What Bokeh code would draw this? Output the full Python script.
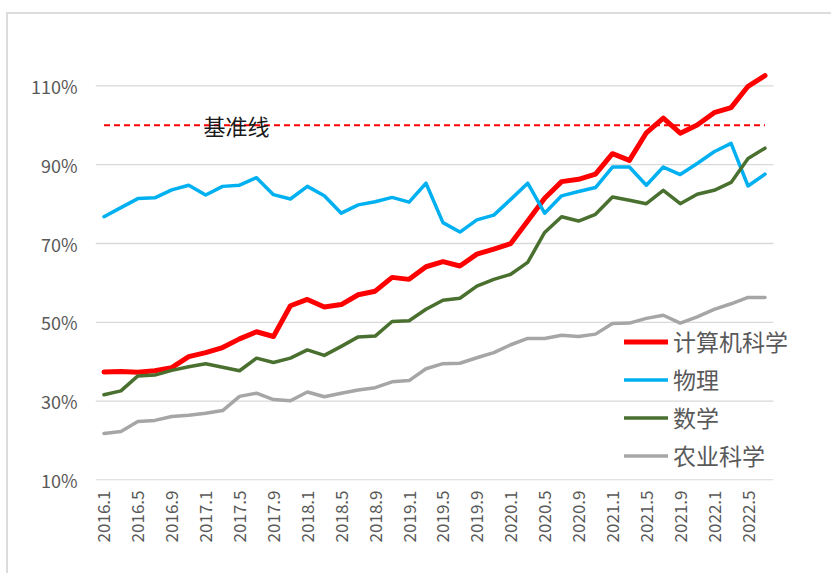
import math
from bokeh.plotting import figure
from bokeh.models import FixedTicker, Legend, LegendItem, Range1d
from bokeh.core.properties import value
from bokeh.embed import file_html
from bokeh.resources import INLINE

# ---------------- data ----------------
categories = [
    "2016.1", "2016.3", "2016.5", "2016.7", "2016.9", "2016.11",
    "2017.1", "2017.3", "2017.5", "2017.7", "2017.9", "2017.11",
    "2018.1", "2018.3", "2018.5", "2018.7", "2018.9", "2018.11",
    "2019.1", "2019.3", "2019.5", "2019.7", "2019.9", "2019.11",
    "2020.1", "2020.3", "2020.5", "2020.7", "2020.9", "2020.11",
    "2021.1", "2021.3", "2021.5", "2021.7", "2021.9", "2021.11",
    "2022.1", "2022.3", "2022.5", "2022.7",
]
x_tick_labels = [
    "2016.1", "2016.5", "2016.9", "2017.1", "2017.5", "2017.9", "2018.1",
    "2018.5", "2018.9", "2019.1", "2019.5", "2019.9", "2020.1", "2020.5",
    "2020.9", "2021.1", "2021.5", "2021.9", "2022.1", "2022.5",
]
computer_science = [
    37.4, 37.5, 37.3, 37.7, 38.5, 41.3, 42.3, 43.6, 45.8, 47.6,
    46.4, 54.2, 55.8, 53.9, 54.5, 57.0, 57.9, 61.4, 60.9, 64.1,
    65.4, 64.3, 67.3, 68.6, 70.0, 75.7, 81.5, 85.7, 86.3, 87.6,
    92.8, 91.1, 98.1, 101.8, 98.0, 100.1, 103.2, 104.5, 109.9, 112.6,
]
physics = [
    76.8, 79.1, 81.4, 81.6, 83.6, 84.8, 82.3, 84.5, 84.8, 86.7,
    82.4, 81.3, 84.5, 82.1, 77.7, 79.8, 80.6, 81.7, 80.5, 85.3,
    75.3, 72.9, 76.0, 77.2, 81.2, 85.3, 77.7, 82.1, 83.2, 84.2,
    89.4, 89.4, 84.8, 89.4, 87.5, 90.3, 93.3, 95.4, 84.6, 87.6,
]
mathematics = [
    31.6, 32.6, 36.4, 36.6, 37.8, 38.7, 39.5, 38.6, 37.7, 40.9,
    39.8, 40.9, 43.0, 41.6, 43.9, 46.3, 46.5, 50.2, 50.4, 53.3,
    55.6, 56.1, 59.2, 60.9, 62.2, 65.2, 72.8, 76.8, 75.7, 77.4,
    81.8, 81.0, 80.1, 83.5, 80.1, 82.5, 83.5, 85.5, 91.6, 94.2,
]
agriculture = [
    21.8, 22.3, 24.8, 25.1, 26.1, 26.4, 26.9, 27.6, 31.2, 32.0,
    30.4, 30.1, 32.3, 31.1, 32.0, 32.8, 33.4, 34.9, 35.2, 38.2,
    39.5, 39.6, 41.0, 42.3, 44.3, 45.9, 45.9, 46.7, 46.4, 47.0,
    49.7, 49.8, 51.0, 51.8, 49.8, 51.4, 53.3, 54.7, 56.3, 56.3,
]
series_names = ["计算机科学", "物理", "数学", "农业科学"]
series_colors = ["#FF0000", "#00B0F0", "#4A7030", "#A6A6A6"]
series_widths = [5, 3.5, 3.5, 3.5]

baseline_value = 100
baseline_label = "基准线"
baseline_label_category = "2017.5"

y_ticks = [10, 30, 50, 70, 90, 110]
y_tick_labels = ["10%", "30%", "50%", "70%", "90%", "110%"]

FONT = "Noto Sans CJK SC"
LABEL_COLOR = "#595959"

# category positions on a numeric axis (one unit per category)
xpos = list(range(len(categories)))
cat_index = {c: i for i, c in enumerate(categories)}

# ---------------- figure ----------------
p = figure(
    x_range=Range1d(-0.5, 41.39),
    y_range=Range1d(9.85, 120),
    width=825, height=561,
    output_backend="svg", toolbar_location=None,
    min_border_left=87, min_border_right=28,
    min_border_top=32, min_border_bottom=95,
)
p.styles = {"position": "relative", "left": "8px", "top": "14px",
            "box-shadow": "-2px -2px 0 0 #DCDCDC"}
p.outline_line_color = None
p.background_fill_color = "white"
p.border_fill_color = "white"

p.xgrid.grid_line_color = None
p.ygrid.grid_line_color = None

# horizontal gridlines spanning only the category area
p.segment(x0=[xpos[0] - 0.5] * len(y_ticks), x1=[xpos[-1] + 0.5] * len(y_ticks),
          y0=y_ticks, y1=y_ticks, line_color="#D9D9D9", line_width=1.3)

p.yaxis.ticker = FixedTicker(ticks=y_ticks)
p.yaxis.major_label_overrides = {t: l for t, l in zip(y_ticks, y_tick_labels)}
x_ticks = [cat_index[c] for c in x_tick_labels]
p.xaxis.ticker = FixedTicker(ticks=x_ticks)
p.xaxis.major_label_overrides = {cat_index[c]: c for c in x_tick_labels}
for ax in (p.xaxis, p.yaxis):
    ax.axis_line_color = None
    ax.major_tick_line_color = None
    ax.minor_tick_line_color = None
    ax.major_tick_out = 0
    ax.major_tick_in = 0
    ax.major_label_text_font = FONT
    ax.major_label_text_color = LABEL_COLOR
p.yaxis.major_label_text_font_size = "18px"
p.xaxis.major_label_text_font_size = "17px"
p.yaxis.major_label_standoff = 18
p.xaxis.major_label_standoff = 10
p.xaxis.major_label_orientation = math.pi / 2

# baseline
p.line(xpos, [baseline_value] * len(xpos), line_color="#FF0000",
       line_width=1.9, line_dash="6 4")
p.text(x=[cat_index[baseline_label_category]], y=[baseline_value], text=[baseline_label],
       text_font=value(FONT), text_font_size="22px", text_color="#1A1A1A",
       text_align="center", text_baseline="middle", x_offset=-3)

# series
all_series = [computer_science, physics, mathematics, agriculture]
items = []
for name, vals, col, w in zip(series_names, all_series, series_colors, series_widths):
    r = p.line(xpos, vals, line_color=col, line_width=w,
               line_join="round", line_cap="round")
    items.append(LegendItem(label=name, renderers=[r]))

legend = Legend(items=items, location=(529, 8))
legend.padding = 0
legend.margin = 0
legend.spacing = 4
legend.border_line_color = None
legend.background_fill_alpha = 0
legend.glyph_width = 44
legend.glyph_height = 29
legend.label_height = 29
legend.label_standoff = 5
legend.label_text_font = FONT
legend.label_text_font_size = "23px"
legend.label_text_color = LABEL_COLOR
p.add_layout(legend, "center")

open("out.html", "w").write(file_html(p, INLINE))
